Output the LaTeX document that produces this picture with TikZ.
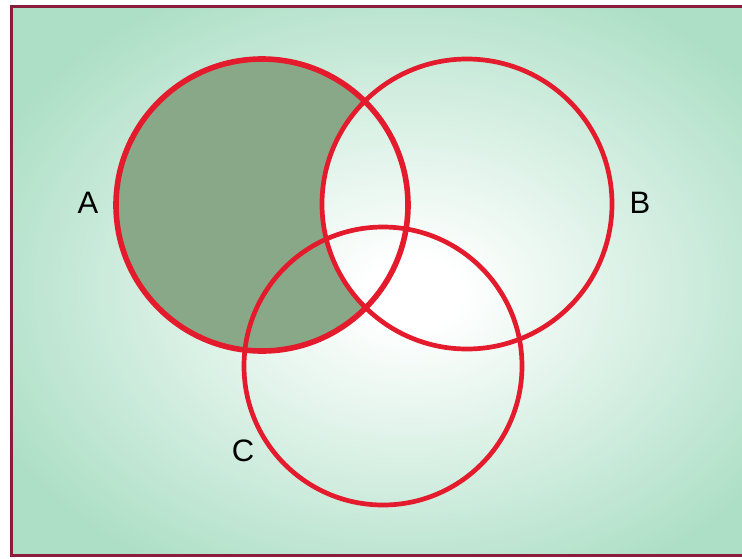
\documentclass[tikz,border=0pt]{standalone}
\usepackage{fontspec}
\setmainfont{Liberation Sans}
\definecolor{bggreen}{HTML}{ADDFC6}
\definecolor{framecol}{HTML}{8A1C3C}
\definecolor{vennred}{HTML}{E31B2C}
\definecolor{shadecol}{HTML}{89A887}
\pgfdeclareradialshading{bgshade}{\pgfpoint{2bp}{-1.2bp}}{color(0bp)=(white); color(3bp)=(white); color(30bp)=(bggreen); color(50bp)=(bggreen)}
\tikzset{
  venn/.style={draw=vennred, line width=4.7pt},
  lbl/.style={font=\fontsize{31}{33}\selectfont, inner sep=0pt, text=black}
}
\begin{document}
\begin{tikzpicture}[x=1pt,y=-1pt]
\useasboundingbox (0,0) rectangle (742,558);
\fill[white] (0,0) rectangle (742,558);
\shade[shading=bgshade] (11,6) rectangle (760,556);
\draw[framecol, line width=3pt] (760,6) -- (11.5,6) -- (11.5,555.5) -- (760,555.5);
% shaded region A minus B
\begin{scope}
  \clip (262,205) circle (146);
  \fill[shadecol, even odd rule] (0,0) rectangle (742,558) (467,204) circle (145);
\end{scope}
\node[venn, circle, minimum size=292pt, inner sep=0pt, line width=5.6pt] (A) at (262,205) {};
\node[venn, circle, minimum size=290pt, inner sep=0pt] (B) at (467,204) {};
\node[venn, circle, minimum size=278pt, inner sep=0pt] (C) at (383,366) {};
\node[lbl] (la) at (88,203) {A};
\node[lbl] (lb) at (640,203) {B};
\node[lbl] (lc) at (243,451) {C};
\end{tikzpicture}
\end{document}
